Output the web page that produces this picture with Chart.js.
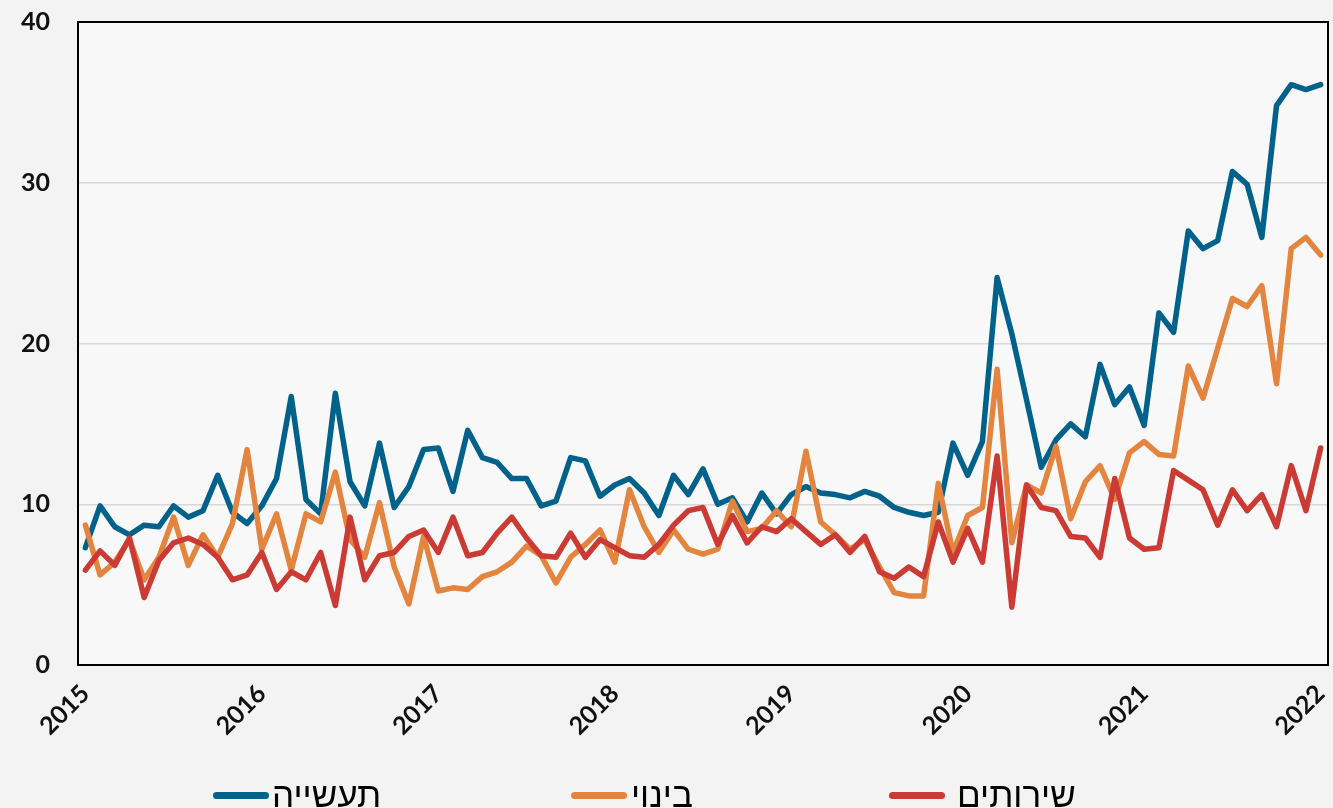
<!DOCTYPE html>
<html lang="he">
<head>
<meta charset="utf-8">
<title>תעשייה, בינוי, שירותים</title>
<script src="https://cdn.jsdelivr.net/npm/chart.js@4.4.1/dist/chart.umd.min.js"></script>
<style>
  html, body { margin: 0; padding: 0; background: #f3f3f3; }
  .wrap { position: relative; width: 1333px; height: 808px; overflow: hidden; }
  .wrap canvas { position: absolute; left: 0; top: 0; }
  .legend { position: absolute; left: 0; top: 774px; width: 1333px; height: 42px;
    font-family: "Liberation Sans", "DejaVu Sans", sans-serif; font-size: 35px; color: #000; }
  .legend-item { position: absolute; top: 0; height: 42px; display: flex; align-items: center; }
  .legend-swatch { width: 56px; height: 7px; border-radius: 4px; }
  .legend-text { direction: rtl; }
</style>
</head>
<body>
<div class="wrap">
  <canvas id="chart" width="1333" height="808"></canvas>
  <div class="legend" id="legend"></div>
</div>
<script>
// monthly, Jan 2015 .. Jan 2022
const months = [
  '2015-01','2015-02','2015-03','2015-04','2015-05','2015-06','2015-07','2015-08','2015-09','2015-10','2015-11','2015-12',
  '2016-01','2016-02','2016-03','2016-04','2016-05','2016-06','2016-07','2016-08','2016-09','2016-10','2016-11','2016-12',
  '2017-01','2017-02','2017-03','2017-04','2017-05','2017-06','2017-07','2017-08','2017-09','2017-10','2017-11','2017-12',
  '2018-01','2018-02','2018-03','2018-04','2018-05','2018-06','2018-07','2018-08','2018-09','2018-10','2018-11','2018-12',
  '2019-01','2019-02','2019-03','2019-04','2019-05','2019-06','2019-07','2019-08','2019-09','2019-10','2019-11','2019-12',
  '2020-01','2020-02','2020-03','2020-04','2020-05','2020-06','2020-07','2020-08','2020-09','2020-10','2020-11','2020-12',
  '2021-01','2021-02','2021-03','2021-04','2021-05','2021-06','2021-07','2021-08','2021-09','2021-10','2021-11','2021-12',
  '2022-01'
];
const yearTicks = ['2015', '2016', '2017', '2018', '2019', '2020', '2021', '2022'];

const industry = [
  7.3, 9.9, 8.6, 8.1, 8.7, 8.6, 9.9, 9.2, 9.6, 11.8, 9.5, 8.8,
  9.9, 11.6, 16.7, 10.3, 9.4, 16.9, 11.4, 9.9, 13.8, 9.8, 11.1, 13.4,
  13.5, 10.8, 14.6, 12.9, 12.6, 11.6, 11.6, 9.9, 10.2, 12.9, 12.7, 10.5,
  11.2, 11.6, 10.7, 9.3, 11.8, 10.6, 12.2, 10.0, 10.4, 8.9, 10.7, 9.4,
  10.6, 11.1, 10.7, 10.6, 10.4, 10.8, 10.5, 9.8, 9.5, 9.3, 9.5, 13.8,
  11.8, 13.9, 24.1, 20.6, 16.5, 12.3, 14.0, 15.0, 14.2, 18.7, 16.2, 17.3,
  14.9, 21.9, 20.7, 27.0, 25.9, 26.4, 30.7, 29.9, 26.6, 34.8, 36.1, 35.8,
  36.1
];
const construction = [
  8.7, 5.6, 6.4, 7.8, 5.3, 6.7, 9.2, 6.2, 8.1, 6.7, 8.8, 13.4,
  7.2, 9.4, 5.9, 9.4, 8.9, 12.0, 7.8, 6.7, 10.1, 6.1, 3.8, 8.0,
  4.6, 4.8, 4.7, 5.5, 5.8, 6.4, 7.4, 6.8, 5.1, 6.7, 7.5, 8.4,
  6.4, 10.9, 8.6, 7.0, 8.4, 7.2, 6.9, 7.2, 10.2, 8.3, 8.5, 9.6,
  8.6, 13.3, 8.9, 8.1, 7.2, 7.8, 6.1, 4.5, 4.3, 4.3, 11.3, 7.0,
  9.3, 9.8, 18.4, 7.6, 11.2, 10.7, 13.6, 9.1, 11.4, 12.4, 10.3, 13.2,
  13.9, 13.1, 13.0, 18.6, 16.6, 19.7, 22.8, 22.3, 23.6, 17.5, 25.9, 26.6,
  25.5
];
const services = [
  5.9, 7.1, 6.2, 7.9, 4.2, 6.5, 7.6, 7.9, 7.5, 6.7, 5.3, 5.6,
  7.0, 4.7, 5.8, 5.3, 7.0, 3.7, 9.2, 5.3, 6.8, 7.0, 8.0, 8.4,
  7.0, 9.2, 6.8, 7.0, 8.2, 9.2, 7.9, 6.8, 6.7, 8.2, 6.7, 7.8,
  7.3, 6.8, 6.7, 7.5, 8.7, 9.6, 9.8, 7.5, 9.3, 7.6, 8.6, 8.3,
  9.1, 8.3, 7.5, 8.1, 7.0, 8.0, 5.8, 5.4, 6.1, 5.5, 8.9, 6.4,
  8.5, 6.4, 13.0, 3.6, 11.2, 9.8, 9.6, 8.0, 7.9, 6.7, 11.6, 7.9,
  7.2, 7.3, 12.1, 11.5, 10.9, 8.7, 10.9, 9.6, 10.6, 8.6, 12.4, 9.6,
  13.5
];

const seriesNames = ['תעשייה', 'בינוי', 'שירותים'];
const seriesColors = ['#00618b', '#e4853f', '#cc3a34'];

const tickFont = { family: 'Lato, "Open Sans", sans-serif', size: 25, weight: 'bold' };

const frame = {
  id: 'frame',
  beforeDraw(chart) {
    const { ctx, chartArea: a } = chart;
    ctx.save();
    ctx.fillStyle = 'rgba(255,255,255,0.4)';
    ctx.fillRect(a.left, a.top, a.right - a.left, a.bottom - a.top);
    ctx.restore();
  },
  beforeDatasetsDraw(chart) {
    const { ctx, chartArea: a } = chart;
    ctx.save();
    ctx.strokeStyle = '#000';
    ctx.lineWidth = 2;
    ctx.strokeRect(a.left, a.top, a.right - a.left, a.bottom - a.top);
    ctx.restore();
  }
};

function lineSet(i, values, order) {
  return {
    label: seriesNames[i],
    data: values,
    borderColor: seriesColors[i],
    backgroundColor: seriesColors[i],
    borderWidth: 5.5,
    pointRadius: 0,
    tension: 0,
    fill: false,
    borderJoinStyle: 'round',
    borderCapStyle: 'round',
    order: order
  };
}

const chart = new Chart(document.getElementById('chart'), {
  type: 'line',
  data: {
    labels: months,
    datasets: [
      lineSet(0, industry, 2),
      lineSet(1, construction, 1),
      lineSet(2, services, 0)
    ]
  },
  plugins: [frame],
  options: {
    responsive: false,
    animation: false,
    layout: { padding: { top: 22, right: 5, left: 0, bottom: 0 } },
    plugins: {
      legend: { display: false },
      tooltip: { enabled: false }
    },
    scales: {
      x: {
        type: 'category',
        offset: true,
        grid: { display: false, drawTicks: false },
        border: { display: false },
        ticks: {
          autoSkip: false,
          minRotation: 45,
          maxRotation: 45,
          padding: 14,
          color: '#111',
          font: tickFont,
          callback: (v, idx) => (idx % 12 === 0 ? yearTicks[idx / 12] : '')
        },
        afterFit: (s) => { s.height = 143; s.paddingLeft = 0; s.paddingRight = 0; }
      },
      y: {
        min: 0,
        max: 40,
        grid: {
          drawTicks: false,
          lineWidth: 1.5,
          color: (c) => (c.tick.value === 0 || c.tick.value === 40 ? 'rgba(0,0,0,0)' : '#d8d8d8')
        },
        border: { display: false },
        ticks: { stepSize: 10, padding: 28, color: '#111', font: tickFont },
        afterFit: (s) => { s.width = 78; s.paddingTop = 0; s.paddingBottom = 0; }
      }
    }
  }
});

// legend built from the datasets
const legendLefts = [213, 571, 889];
const legendGaps = [3, 4, 12];
const legendNode = document.getElementById('legend');
chart.data.datasets.forEach((ds, i) => {
  const item = document.createElement('div');
  item.className = 'legend-item';
  item.style.left = legendLefts[i] + 'px';
  const sw = document.createElement('span');
  sw.className = 'legend-swatch';
  sw.style.background = ds.borderColor;
  const txt = document.createElement('span');
  txt.className = 'legend-text';
  txt.style.marginLeft = legendGaps[i] + 'px';
  txt.textContent = ds.label;
  item.appendChild(sw);
  item.appendChild(txt);
  legendNode.appendChild(item);
});
</script>
</body>
</html>
